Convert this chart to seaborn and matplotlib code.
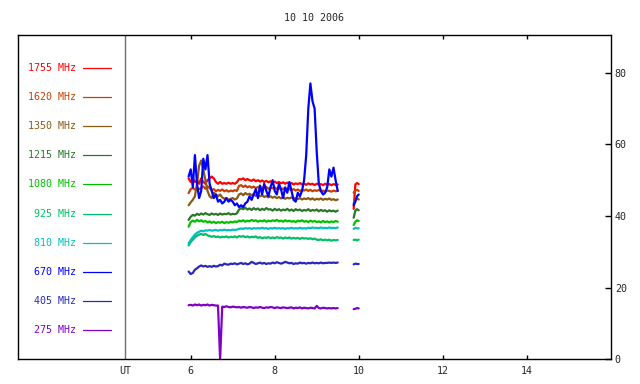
import matplotlib
matplotlib.use("Agg")
import matplotlib.pyplot as plt
import matplotlib.transforms as mtransforms
import seaborn as sns
import pandas as pd
import numpy as np

# --- data (UT hours, flux units) ---
TIME_A = [5.95, 6.00, 6.05, 6.10, 6.15, 6.20, 6.25, 6.30, 6.35, 6.40,
          6.45, 6.50, 6.55, 6.60, 6.65, 6.70, 6.75, 6.80, 6.85, 6.90,
          6.95, 7.00, 7.05, 7.10, 7.15, 7.20, 7.25, 7.30, 7.35, 7.40,
          7.45, 7.50, 7.55, 7.60, 7.65, 7.70, 7.75, 7.80, 7.85, 7.90,
          7.95, 8.00, 8.05, 8.10, 8.15, 8.20, 8.25, 8.30, 8.35, 8.40,
          8.45, 8.50, 8.55, 8.60, 8.65, 8.70, 8.75, 8.80, 8.85, 8.90,
          8.95, 9.00, 9.05, 9.10, 9.15, 9.20, 9.25, 9.30, 9.35, 9.40,
          9.45, 9.50]
TIME_B = [9.88, 9.92, 9.96, 10.00]

freqs = ["1755", "1620", "1350", "1215", "1080", "925", "810", "670", "405", "275"]
colors = ["#ff0000", "#c84000", "#8b5a14", "#287828", "#00c000",
          "#00c068", "#00c0c0", "#0000ff", "#2828c0", "#8000c8"]

f1755_a = [50.5, 49.5, 50.5, 49.5, 50, 49, 50.5, 49.5, 49, 50, 50.5, 51, 50.5, 49.5, 49, 49.5,
           49, 49.2, 49, 49.3, 49, 49.2, 49, 49.4, 50.3, 50.2, 50.5, 50, 50.3, 50, 49.8, 50.2,
           49.7, 50, 49.6, 49.9, 49.5, 49.8, 49.4, 49.7, 49.3, 49.6, 49.2, 49.5, 49.1, 49.4, 49,
           49.3, 48.9, 49.2, 48.8, 49.1, 48.9, 49.2, 48.8, 49, 48.7, 49.1, 48.8, 49, 48.6, 49,
           48.8, 48.9, 48.6, 49, 48.7, 48.9, 48.6, 48.9, 48.7, 48.8]
f1755_b = [42, 48.8, 49.2, 48.9]

f1620_a = [46.4, 47.5, 47.8, 47.4, 47.9, 47.5, 47.8, 48.2, 47.6, 48.3, 47.8, 47.2, 47.5, 46.9,
           47.3, 47, 47.4, 46.9, 47.2, 46.8, 47.1, 46.9, 47.2, 47, 48.4, 48.6, 48.1, 48.5, 48,
           48.3, 47.9, 48.2, 47.8, 48.1, 47.7, 48, 47.8, 48.1, 47.6, 47.9, 47.7, 48, 47.5, 47.8,
           47.4, 47.7, 47.3, 47.6, 47.5, 47.2, 47.5, 47.1, 47.4, 47, 47.3, 47.1, 47.4, 47, 47.3,
           46.9, 47.2, 47, 47.3, 46.9, 47.1, 46.8, 47.1, 47, 46.8, 47.1, 46.9, 47]
f1620_b = [46.5, 47.1, 47.3, 47.0]

f1350_a = [43, 43.8, 44.5, 45.5, 49, 54, 55.5, 53, 50, 47, 45.5, 45, 46.5, 46, 45.5, 46, 45.2,
           44.8, 45, 44.5, 44.8, 45, 44.6, 44.9, 46, 46.3, 45.8, 46.4, 46, 46.2, 45.8, 46.1,
           45.6, 45.9, 45.5, 45.8, 45.3, 45.6, 45.2, 45.5, 45.1, 45.4, 45, 45.3, 44.9, 45.2,
           44.8, 45.1, 44.9, 45.2, 44.8, 45, 44.7, 45, 44.6, 44.9, 44.7, 45, 44.6, 44.9, 44.5,
           44.8, 44.6, 44.9, 44.5, 44.8, 44.6, 44.9, 44.5, 44.7, 44.4, 44.6]
f1350_b = [43.5, 44.6, 44.9, 44.6]

f1215_a = [38.9, 39.8, 40.3, 40.1, 40.6, 40.3, 40.7, 40.4, 40.8, 40.5, 40.3, 40.7, 40.4, 40.6,
           40.3, 40.7, 40.4, 40.6, 40.5, 40.8, 40.4, 40.6, 40.5, 40.7, 41.8, 42.2, 41.9, 42.3,
           41.8, 42.1, 41.7, 42.2, 41.8, 42.1, 41.6, 42, 41.7, 42.2, 41.8, 41.9, 41.5, 42, 41.6,
           41.9, 41.5, 41.8, 41.6, 42, 41.5, 41.8, 41.4, 41.9, 41.6, 41.8, 41.4, 41.7, 41.5,
           41.9, 41.4, 41.7, 41.5, 41.8, 41.3, 41.7, 41.4, 41.6, 41.2, 41.6, 41.3, 41.5, 41.2, 41.5]
f1215_b = [39.5, 41.5, 41.9, 41.6]

f1080_a = [37, 38.3, 38.7, 38.4, 38.9, 38.5, 38.8, 38.4, 38.6, 38.2, 38.5, 38.1, 38.4, 38,
           38.3, 38.1, 38.4, 38, 38.3, 38.1, 38.4, 38.2, 38.5, 38.3, 38.7, 38.5, 38.8, 38.4,
           38.7, 38.5, 38.9, 38.6, 38.8, 38.4, 38.7, 38.5, 38.8, 38.4, 38.7, 38.5, 38.8, 38.6,
           38.9, 38.5, 38.7, 38.4, 38.8, 38.5, 38.7, 38.4, 38.6, 38.3, 38.7, 38.5, 38.8, 38.4,
           38.6, 38.3, 38.7, 38.4, 38.6, 38.3, 38.5, 38.2, 38.6, 38.3, 38.5, 38.2, 38.5, 38.3,
           38.6, 38.4]
f1080_b = [37.5, 38.4, 38.8, 38.6]

f925_a = [31.8, 32.7, 33.4, 34, 34.5, 34.8, 35, 34.7, 35, 34.6, 34.4, 34.2, 34.4, 34.1, 34.3,
          34, 34.2, 34.1, 34.3, 34, 34.2, 34.1, 34.3, 34, 34.4, 34.2, 34.4, 34.1, 34.3, 34,
          34.2, 34.1, 34.3, 33.9, 34.1, 33.8, 34, 33.9, 34.1, 33.8, 34, 33.8, 34.1, 33.9, 34,
          33.7, 34, 33.8, 34, 33.7, 33.9, 33.7, 33.9, 33.6, 33.9, 33.7, 33.8, 33.6, 33.8, 33.5,
          33.7, 33.4, 33.3, 33.5, 33.2, 33.4, 33.2, 33.4, 33.1, 33.3, 33.2, 33.3]
f925_b = [33.3, 33.4, 33.2, 33.4]

f810_a = [32.4, 33.3, 34.1, 34.8, 35.3, 35.6, 35.9, 35.7, 36, 35.9, 36.1, 35.9, 36, 36.1,
          35.9, 36.1, 36, 36.2, 36, 36.1, 36, 36.2, 36.1, 36.2, 36.4, 36.5, 36.4, 36.6, 36.5,
          36.6, 36.4, 36.6, 36.5, 36.6, 36.5, 36.7, 36.5, 36.6, 36.4, 36.6, 36.5, 36.7, 36.5,
          36.6, 36.5, 36.6, 36.4, 36.6, 36.5, 36.7, 36.5, 36.6, 36.5, 36.7, 36.5, 36.6, 36.5,
          36.7, 36.6, 36.8, 36.6, 36.7, 36.6, 36.8, 36.6, 36.7, 36.6, 36.8, 36.6, 36.7, 36.6, 36.8]
f810_b = [36.4, 36.7, 36.5, 36.6]

f670_a = [51, 53, 48, 57, 49, 45, 47, 56, 53, 57, 49, 47, 45, 46, 44, 44.5, 43.5, 44, 45, 44,
          44.5, 44, 43, 43.5, 42.5, 43, 42.5, 43.5, 44, 45.5, 44.5, 46, 47.5, 45, 48.5, 46, 49,
          47, 45.5, 48, 50, 47, 46, 49, 47.5, 45, 48, 46.5, 49.5, 47, 44.5, 44, 46.5, 45.5, 47,
          50, 57, 70, 77, 72, 70, 58, 49, 47, 46, 46.5, 48, 53, 51, 53.5, 50, 47]
f670_b = [43, 44, 45.5, 46]

f405_a = [24.5, 23.8, 24.1, 25, 25.4, 25.9, 26.2, 25.9, 26.1, 25.8, 26, 25.8, 26.1, 25.9, 26,
          26.4, 26.2, 26.7, 26.5, 26.4, 26.7, 26.6, 26.8, 26.5, 26.7, 26.9, 26.6, 26.8, 26.5,
          26.7, 27.2, 26.9, 26.6, 26.8, 27, 26.7, 26.9, 26.6, 26.8, 26.7, 27, 26.8, 27.1, 26.9,
          26.7, 26.9, 27.2, 27, 26.8, 26.9, 26.6, 26.8, 26.7, 27, 26.8, 26.9, 26.7, 26.9, 26.8,
          27, 26.8, 26.9, 26.8, 27, 26.8, 26.9, 26.9, 27, 26.9, 27, 26.9, 27]
f405_b = [26.5, 26.7, 26.6, 26.6]

f275_a = [15.1, 15.2, 15, 15.3, 15.1, 15.3, 15, 15.2, 15.1, 15.3, 15, 15.2, 15.1, 15, 15, 0,
          14.7, 14.6, 14.8, 14.6, 14.5, 14.7, 14.6, 14.5, 14.6, 14.4, 14.6, 14.5, 14.4, 14.6,
          14.5, 14.3, 14.5, 14.4, 14.6, 14.4, 14.3, 14.5, 14.4, 14.6, 14.5, 14.3, 14.5, 14.4,
          14.3, 14.5, 14.4, 14.3, 14.4, 14.5, 14.2, 14.4, 14.3, 14.5, 14.2, 14.4, 14.3, 14.2,
          14.4, 14.3, 14.2, 14.9, 14.3, 14.2, 14.4, 14.3, 14.2, 14.3, 14.2, 14.3, 14.2, 14.3]
f275_b = [14.0, 14.1, 14.3, 14.2]

series_a = [f1755_a, f1620_a, f1350_a, f1215_a, f1080_a, f925_a, f810_a, f670_a, f405_a, f275_a]
series_b = [f1755_b, f1620_b, f1350_b, f1215_b, f1080_b, f925_b, f810_b, f670_b, f405_b, f275_b]

x_ticks = [6, 8, 10, 12, 14]
y_ticks = [0, 20, 40, 60, 80]

# long table for seaborn
rows = []
for f, va, vb in zip(freqs, series_a, series_b):
    for t, v in zip(TIME_A, va):
        rows.append((f, "a", t, v))
    for t, v in zip(TIME_B, vb):
        rows.append((f, "b", t, v))
df = pd.DataFrame(rows, columns=["freq", "seg", "time", "flux"])

sns.set_style("ticks")
plt.rcParams["font.family"] = ["DejaVu Sans Mono"]
plt.rcParams["font.size"] = 7.2

fig = plt.figure(figsize=(6.4, 3.84), dpi=100)
ax = fig.add_axes([18.3 / 640, 1 - 359.3 / 384, (610.7 - 18.3) / 640, (359.3 - 35) / 384])

palette = dict(zip(freqs, colors))
draw_order = [f for f in freqs if f != "670"] + ["670"]
sns.lineplot(data=df, x="time", y="flux", hue="freq", units="seg", estimator=None,
             hue_order=draw_order, palette=palette, linewidth=1.6, legend=False, ax=ax)

ax.set_xlim(1.895, 16.0)
ax.set_ylim(0, 90.52)
ax.set_xlabel("")
ax.set_ylabel("")

ax.set_xticks(x_ticks)
ax.set_xticklabels([str(v) for v in x_ticks])
ax.set_yticks(y_ticks)
ax.set_yticklabels([str(v) for v in y_ticks])
ax.yaxis.tick_right()
ax.tick_params(axis="x", direction="in", length=3, width=1, pad=5, top=True, bottom=True,
               labelsize=7.2, color="black")
ax.tick_params(axis="y", direction="in", length=4.5, width=1, pad=3, left=False, right=True,
               labelsize=7.2, color="black")
for s in ax.spines.values():
    s.set_color("black")
    s.set_linewidth(1)

# separator between legend block and time axis
ut_x = 4.436
ax.axvline(ut_x, color="#707070", linewidth=1)
trans = mtransforms.blended_transform_factory(ax.transData, ax.transAxes)
ax.text(ut_x, -0.035, "UT", transform=trans, ha="center", va="center", fontsize=7.2)

# colour key on the left
for i, (f, c) in enumerate(zip(freqs, colors)):
    ypx = 67.7 + 29.18 * i
    yv = 90.52 * (359.3 - ypx) / 324.3
    ax.text(3.27, yv, f"{f} MHz", color=c, ha="right", va="center", fontsize=7.2)
    ax.plot([3.436, 4.102], [yv, yv], color=c, linewidth=0.9)

fig.text(314.5 / 640, 1 - 18 / 384, "10 10 2006", ha="center", va="center", fontsize=7.2)

fig.savefig("out.png", dpi=100, facecolor="white")
